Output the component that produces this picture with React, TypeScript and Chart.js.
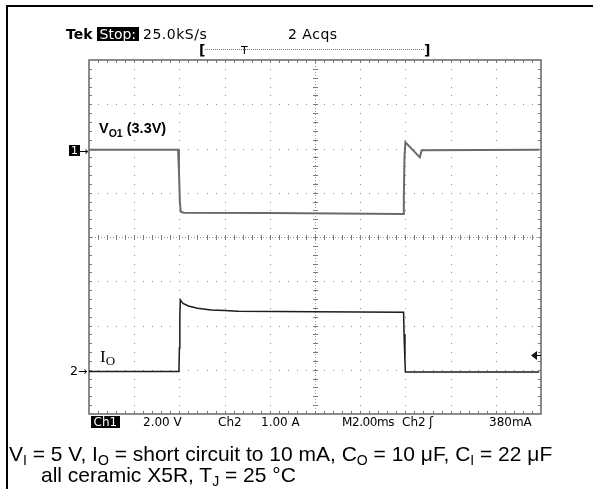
import React, { useEffect, useRef } from 'react';
import { Chart, registerables } from 'chart.js';

Chart.register(...registerables);

// Time axis in divisions (M 2.00 ms/div), vertical in divisions
const ch1Time = [0, 1.97, 1.99, 2.01, 2.03, 2.1, 4.0, 6.95, 6.965, 6.98, 7.0, 7.32, 7.36, 9.96];
const ch1Div = [5.97, 5.97, 5.5, 4.8, 4.57, 4.55, 4.54, 4.52, 4.9, 5.8, 6.14, 5.8, 5.96, 5.97];
const ch2Time = [0, 1.99, 2.0, 2.01, 2.02, 2.08, 2.2, 2.4, 2.7, 3.0, 3.3, 5.0, 6.96, 6.97, 6.99, 7.0, 9.96];
const ch2Div = [0.96, 0.96, 1.5, 2.2, 2.58, 2.5, 2.44, 2.39, 2.35, 2.34, 2.32, 2.31, 2.3, 1.8, 1.2, 0.95, 0.95];
const ch2Zero = 0.96;
const trigLevelDiv = 0.38; // 380 mA at 1.00 A/div
const xDivs = 10;
const yDivs = 8;

const graticule = {
  id: 'graticule',
  beforeDatasetsDraw(chart: any) {
    const { ctx, chartArea: a, scales } = chart;
    const x = scales.x;
    const y = scales.y;
    ctx.save();
    const px = (v: number) => Math.round(x.getPixelForValue(v));
    const py = (v: number) => Math.round(y.getPixelForValue(v));
    ctx.fillStyle = '#8c8c8c';
    for (let i = 1; i < xDivs; i++) {
      if (i === xDivs / 2) continue;
      const X = px(i);
      for (let k = 1; k < yDivs * 5; k++) ctx.fillRect(X, py(k * 0.2), 1, 1);
    }
    for (let j = 1; j < yDivs; j++) {
      if (j === yDivs / 2) continue;
      const Y = py(j);
      for (let k = 1; k < xDivs * 5; k++) ctx.fillRect(px(k * 0.2), Y, 1, 1);
    }
    const cx = px(xDivs / 2);
    const cy = py(yDivs / 2);
    ctx.strokeStyle = '#9a9a9a';
    ctx.lineWidth = 1;
    ctx.setLineDash([1, 2]);
    ctx.beginPath();
    ctx.moveTo(cx + 0.5, a.top);
    ctx.lineTo(cx + 0.5, a.bottom);
    ctx.moveTo(a.left, cy + 0.5);
    ctx.lineTo(a.right, cy + 0.5);
    ctx.stroke();
    ctx.setLineDash([]);
    ctx.strokeStyle = '#7a7a7a';
    ctx.beginPath();
    for (let k = 1; k < yDivs * 5; k++) {
      const Y = py(k * 0.2) + 0.5;
      ctx.moveTo(cx - 2, Y);
      ctx.lineTo(cx + 3, Y);
      ctx.moveTo(a.left, Y);
      ctx.lineTo(a.left + 3, Y);
      ctx.moveTo(a.right, Y);
      ctx.lineTo(a.right - 3, Y);
    }
    for (let k = 1; k < xDivs * 5; k++) {
      const X = px(k * 0.2) + 0.5;
      ctx.moveTo(X, cy - 2);
      ctx.lineTo(X, cy + 3);
      ctx.moveTo(X, a.top);
      ctx.lineTo(X, a.top + 3);
      ctx.moveTo(X, a.bottom);
      ctx.lineTo(X, a.bottom - 3);
    }
    ctx.stroke();
    ctx.strokeStyle = '#666';
    ctx.lineWidth = 1.5;
    ctx.strokeRect(a.left, a.top, a.right - a.left, a.bottom - a.top);
    ctx.restore();
  },
  afterDatasetsDraw(chart: any) {
    const { ctx, chartArea: a, scales } = chart;
    const Y = Math.round(scales.y.getPixelForValue(ch2Zero + trigLevelDiv)) + 0.5;
    ctx.save();
    ctx.fillStyle = '#111';
    ctx.strokeStyle = '#111';
    ctx.lineWidth = 1;
    ctx.beginPath();
    ctx.moveTo(a.right - 10, Y);
    ctx.lineTo(a.right - 4, Y - 4.5);
    ctx.lineTo(a.right - 4, Y + 4.5);
    ctx.closePath();
    ctx.fill();
    ctx.beginPath();
    ctx.moveTo(a.right - 5, Y);
    ctx.lineTo(a.right, Y);
    ctx.stroke();
    ctx.restore();
  },
};

type TP = {
  x: number;
  b: number;
  size: number;
  family?: string;
  weight?: number | string;
  color?: string;
  bg?: string;
  ls?: number;
  pad?: number;
  children: React.ReactNode;
};

function T({ x, b, size, family, weight, color, bg, ls, pad, children }: TP) {
  return (
    <div
      style={{
        position: 'absolute',
        left: x,
        top: b - 0.845 * size,
        fontSize: size,
        lineHeight: `${size}px`,
        fontFamily: family || '"DejaVu Sans", sans-serif',
        fontWeight: weight || 400,
        color: color || '#000',
        background: bg,
        letterSpacing: ls,
        padding: pad ? `0 ${pad}px` : undefined,
        whiteSpace: 'nowrap',
      }}
    >
      {children}
    </div>
  );
}

function Sub({ size, dy, children }: { size: number; dy: number; children: React.ReactNode }) {
  return (
    <span style={{ fontSize: size, position: 'relative', top: dy, verticalAlign: 'baseline' }}>
      {children}
    </span>
  );
}

export default function App() {
  const ref = useRef<HTMLCanvasElement>(null);
  useEffect(() => {
    const c = ref.current;
    if (!c) return;
    const chart = new Chart(c, {
      type: 'line',
      data: {
        datasets: [
          {
            label: 'VO1',
            data: ch1Time.map((t, i) => ({ x: t, y: ch1Div[i] })),
            borderColor: '#6a6a6a',
            borderWidth: 2,
            pointRadius: 0,
            tension: 0,
            fill: false,
          },
          {
            label: 'IO',
            data: ch2Time.map((t, i) => ({ x: t, y: ch2Div[i] })),
            borderColor: '#1c1c1c',
            borderWidth: 1.5,
            pointRadius: 0,
            tension: 0,
            fill: false,
          },
        ],
      },
      options: {
        responsive: false,
        animation: false,
        layout: { padding: { left: 89, right: 52, top: 60, bottom: 75 } },
        plugins: { legend: { display: false }, tooltip: { enabled: false } },
        scales: {
          x: { type: 'linear', min: 0, max: xDivs, display: false },
          y: { type: 'linear', min: 0, max: yDivs, display: false },
        },
      },
      plugins: [graticule],
    });
    return () => chart.destroy();
  }, []);

  const cap = '"Liberation Sans", Arial, sans-serif';
  return (
    <div style={{ position: 'fixed', left: 0, top: 0, width: 593, height: 489, background: '#fff', overflow: 'hidden' }}>
      <canvas ref={ref} width={593} height={489} style={{ position: 'absolute', left: 0, top: 0, width: 593, height: 489 }} />
      {/* frame */}
      <div style={{ position: 'absolute', left: 6, top: 5, width: 587, height: 2, background: '#000' }} />
      <div style={{ position: 'absolute', left: 6, top: 5, width: 2, height: 484, background: '#000' }} />

      {/* top status line */}
      <T x={66} b={39} size={14} weight={700}>Tek</T>
      <T x={97} b={39} size={14} bg="#000" color="#fff" pad={2.5}>Stop:</T>
      <T x={143} b={39} size={14} ls={0.5}>25.0kS/s</T>
      <T x={288} b={39} size={14} ls={0.5}>2 Acqs</T>
      {/* trigger position bracket */}
      <T x={199} b={55} size={14} weight={700}>[</T>
      <div style={{ position: 'absolute', left: 205, top: 49, width: 219, borderTop: '1px dotted #777' }} />
      <T x={241} b={54} size={11}>T</T>
      <T x={424} b={55} size={14} weight={700}>]</T>

      {/* channel markers */}
      <T x={69} b={154} size={11} bg="#000" color="#fff" pad={2}>1</T>
      <T x={79} b={155} size={11}>→</T>
      <T x={70} b={376} size={12.5}>2</T>
      <T x={78} b={375} size={11}>→</T>

      {/* trace labels */}
      <T x={99} b={133} size={14.5} weight={700} family={cap}>
        V<Sub size={10.5} dy={4}>O1</Sub> (3.3V)
      </T>
      <T x={100} b={362} size={17} family='"Liberation Serif", serif'>
        I<Sub size={13} dy={3}>O</Sub>
      </T>

      {/* bottom status line */}
      <T x={91} b={426} size={12} bg="#000" color="#fff" pad={2.5}>Ch1</T>
      <T x={143} b={426} size={12}>2.00 V</T>
      <T x={218} b={426} size={12}>Ch2</T>
      <T x={261} b={426} size={12}>1.00 A</T>
      <T x={342} b={426} size={12} ls={-0.4}>M2.00ms</T>
      <T x={402} b={426} size={12}>Ch2</T>
      <T x={429} b={426} size={12}>ʃ</T>
      <T x={489} b={426} size={12}>380mA</T>

      {/* caption */}
      <T x={9} b={461} size={21} family={cap}>
        V<Sub size={14} dy={4}>I</Sub> = 5 V, I<Sub size={14} dy={4}>O</Sub> = short circuit to 10 mA, C
        <Sub size={14} dy={4}>O</Sub> = 10 μF, C<Sub size={14} dy={4}>I</Sub> = 22 μF
      </T>
      <T x={41} b={482} size={21} family={cap}>
        all ceramic X5R, T<Sub size={14} dy={4}>J</Sub> = 25 °C
      </T>
    </div>
  );
}
